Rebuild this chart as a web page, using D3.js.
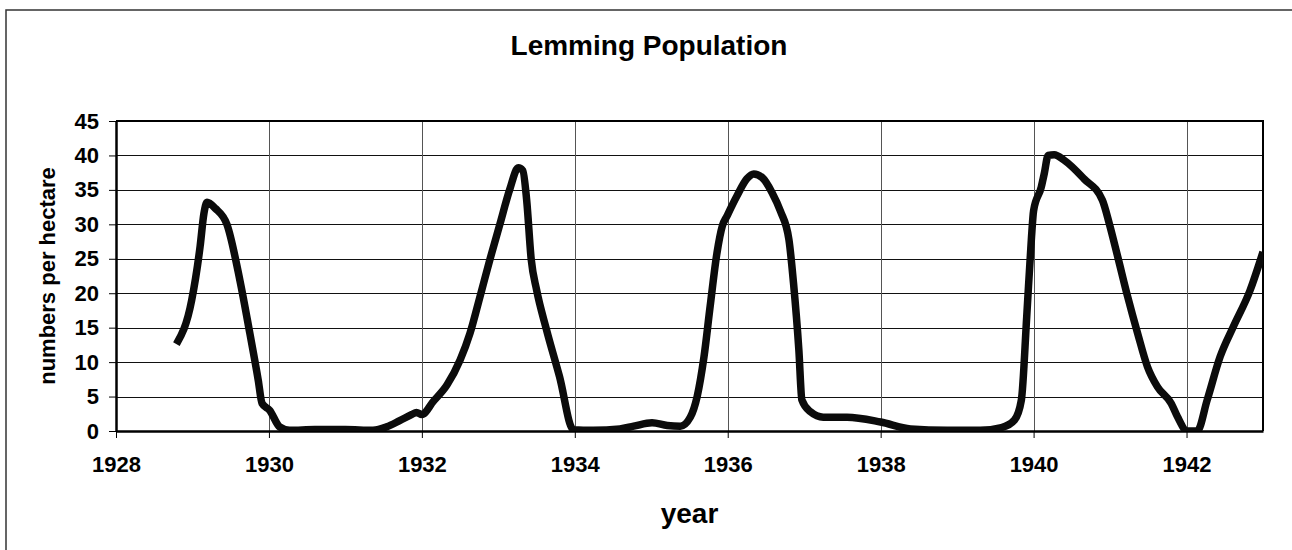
<!DOCTYPE html>
<html>
<head>
<meta charset="utf-8">
<script src="https://cdn.jsdelivr.net/npm/d3@7"></script>
<style>
  body { margin: 0; background: #fff; }
  svg text { font-family: "Liberation Sans", Arial, sans-serif; font-weight: bold; fill: #000; }
</style>
</head>
<body>
<div id="chart"></div>
<script>
// lemming counts
const years = [
  1928.79, 1928.99, 1929.10, 1929.15, 1929.19, 1929.30, 1929.45, 1929.62, 1929.75, 1929.86,
  1929.91, 1930.01, 1930.14, 1930.27, 1930.6, 1931.0, 1931.36, 1931.54, 1931.71, 1931.87,
  1931.93, 1932.0, 1932.15, 1932.33, 1932.5, 1932.63, 1932.76, 1932.89, 1933.02, 1933.15,
  1933.26, 1933.32, 1933.37, 1933.43, 1933.5, 1933.63, 1933.8, 1933.98, 1934.24, 1934.59,
  1934.77, 1935.01, 1935.21, 1935.38, 1935.51, 1935.6, 1935.69, 1935.77, 1935.86, 1935.93,
  1935.99, 1936.12, 1936.25, 1936.34, 1936.45, 1936.58, 1936.69, 1936.8, 1936.86, 1936.93,
  1936.97, 1937.08, 1937.25, 1937.56, 1938.0, 1938.39, 1938.87, 1939.3, 1939.58, 1939.75,
  1939.84, 1939.91, 1939.97, 1940.0, 1940.1, 1940.14, 1940.19, 1940.27, 1940.4, 1940.66,
  1940.9, 1940.99, 1941.1, 1941.23, 1941.36, 1941.49, 1941.62, 1941.8, 1941.88, 1942.01,
  1942.14, 1942.27, 1942.44, 1942.61, 1942.83, 1943.0
];
const values = [
  12.6, 19.0, 26.8, 31.6, 33.2, 32.3, 30.0, 21.9, 14.2, 7.4,
  4.0, 3.0, 0.6, 0.1, 0.2, 0.2, 0.1, 0.6, 1.5, 2.4,
  2.7, 2.4, 4.3, 6.7, 10.3, 14.2, 19.5, 24.9, 30.0, 35.1,
  38.2, 37.8, 33.6, 24.9, 20.5, 14.7, 7.9, 0.2, 0.1, 0.3,
  0.7, 1.2, 0.8, 0.7, 2.0, 5.0, 10.8, 18.1, 25.9, 29.8,
  31.2, 34.1, 36.6, 37.3, 36.8, 34.6, 31.9, 27.8, 21.5, 11.8,
  4.5, 2.8, 2.0, 2.0, 1.3, 0.3, 0.1, 0.1, 0.5, 1.6,
  4.5, 16.6, 27.7, 32.0, 35.4, 37.4, 40.0, 40.1, 39.3, 36.6,
  33.5, 30.1, 25.3, 19.5, 14.2, 9.3, 6.4, 4.0, 2.1, 0,
  0, 4.5, 10.8, 15.1, 20.4, 26.0
];
const xTicks = [1928, 1930, 1932, 1934, 1936, 1938, 1940, 1942];
const yTicks = [0, 5, 10, 15, 20, 25, 30, 35, 40, 45];

const width = 1292, height = 550;
const plot = { left: 116, top: 121, right: 1263, bottom: 431 };

const svg = d3.select("#chart").append("svg")
  .attr("width", width)
  .attr("height", height);

// chart frame (runs off the right / bottom of the picture)
svg.append("rect")
  .attr("x", 6).attr("y", 10)
  .attr("width", 1300).attr("height", 560)
  .attr("fill", "#fff")
  .attr("stroke", "#333")
  .attr("stroke-width", 1.5);

const x = d3.scaleLinear().domain([1928, 1943]).range([plot.left, plot.right]);
const y = d3.scaleLinear().domain([0, 45]).range([plot.bottom, plot.top]);

// grid
svg.append("g").selectAll("line").data(yTicks.slice(1)).join("line")
  .attr("x1", plot.left).attr("x2", plot.right)
  .attr("y1", d => Math.round(y(d)) + 0.5).attr("y2", d => Math.round(y(d)) + 0.5)
  .attr("stroke", "#111").attr("stroke-width", 1);
svg.append("g").selectAll("line").data(xTicks.slice(1)).join("line")
  .attr("y1", plot.top).attr("y2", plot.bottom)
  .attr("x1", d => Math.round(x(d)) + 0.5).attr("x2", d => Math.round(x(d)) + 0.5)
  .attr("stroke", "#555").attr("stroke-width", 1);

// plot box top / right
svg.append("path")
  .attr("d", `M${plot.left},${plot.top}H${plot.right}V${plot.bottom}`)
  .attr("fill", "none").attr("stroke", "#000").attr("stroke-width", 2);

// axes
const xAxis = svg.append("g")
  .attr("transform", `translate(0,${plot.bottom})`)
  .call(d3.axisBottom(x).tickValues(xTicks).tickFormat(d3.format("d")).tickSize(7).tickPadding(18).tickSizeOuter(0));
const yAxis = svg.append("g")
  .attr("transform", `translate(${plot.left},0)`)
  .call(d3.axisLeft(y).tickValues(yTicks).tickSize(7).tickPadding(10).tickSizeOuter(0));

[xAxis, yAxis].forEach(g => {
  g.select(".domain").attr("stroke", "#000").attr("stroke-width", 2.5);
  g.selectAll(".tick line").attr("stroke", "#000").attr("stroke-width", 1);
  g.selectAll(".tick text").style("font-size", "22px").style("font-family", null);
  g.attr("font-family", null).attr("font-size", null);
});

// the population line
svg.append("clipPath").attr("id", "plot-clip")
  .append("rect")
  .attr("x", plot.left).attr("y", plot.top)
  .attr("width", plot.right - plot.left).attr("height", plot.bottom - plot.top);

const line = d3.line()
  .x((d, i) => x(years[i]))
  .y(d => y(d))
  .curve(d3.curveMonotoneX);

svg.append("path")
  .datum(values)
  .attr("clip-path", "url(#plot-clip)")
  .attr("d", line)
  .attr("fill", "none")
  .attr("stroke", "#0b0b0b")
  .attr("stroke-width", 7.5)
  .attr("stroke-linejoin", "round")
  .attr("stroke-linecap", "butt");

// titles
svg.append("text")
  .attr("x", 649).attr("y", 55)
  .attr("text-anchor", "middle")
  .style("font-size", "28px")
  .text("Lemming Population");

svg.append("text")
  .attr("x", (plot.left + plot.right) / 2).attr("y", 523)
  .attr("text-anchor", "middle")
  .style("font-size", "28px")
  .text("year");

svg.append("text")
  .attr("transform", `translate(55,${(plot.top + plot.bottom) / 2}) rotate(-90)`)
  .attr("text-anchor", "middle")
  .style("font-size", "22px")
  .text("numbers per hectare");
</script>
</body>
</html>
